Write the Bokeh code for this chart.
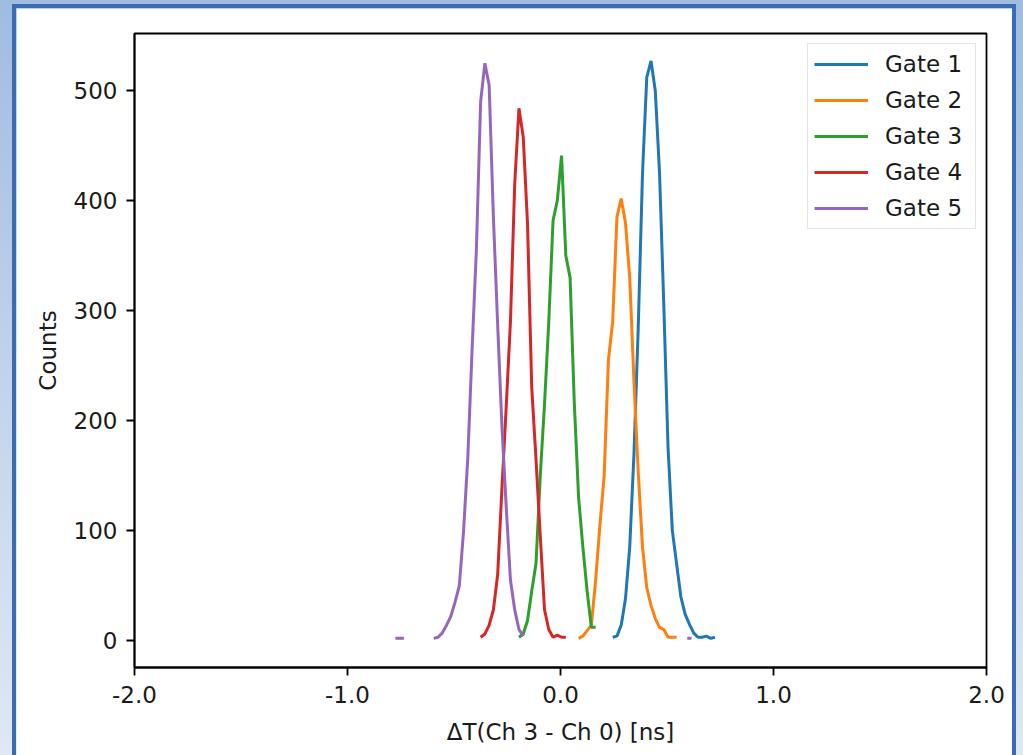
import math
from bokeh.plotting import figure
from bokeh.models import FixedTicker, Range1d
from bokeh.layouts import column
from bokeh.embed import file_html
from bokeh.resources import INLINE

nan = float("nan")

# ---------------- data ----------------
gate_names = ["Gate 1", "Gate 2", "Gate 3", "Gate 4", "Gate 5"]
gate_colors = ["#1f77b4", "#ff7f0e", "#2ca02c", "#d62728", "#9467bd"]

gate1_x = [0.245, 0.265, 0.285, 0.305, 0.325, 0.345, 0.365, 0.385, 0.405, 0.425,
           0.445, 0.465, 0.485, 0.505, 0.525, 0.545, 0.565, 0.585, 0.605, 0.625,
           0.645, 0.665, 0.685, 0.705, 0.725]
gate1_y = [3, 4, 14, 38, 85, 170, 285, 425, 512, 527,
           500, 425, 305, 175, 100, 70, 40, 24, 15, 7,
           3, 3, 4, 2, 3]

gate2_x = [0.085, 0.105, 0.125, 0.145, 0.165, 0.185, 0.205, 0.225, 0.245, 0.265,
           0.285, 0.305, 0.325, 0.345, 0.365, 0.385, 0.405, 0.425, 0.445, 0.465,
           0.485, 0.505, 0.525, 0.545]
gate2_y = [2, 4, 9, 14, 55, 105, 150, 255, 290, 385,
           402, 380, 330, 235, 153, 85, 48, 32, 20, 12,
           10, 3, 3, 3]

gate3_x = [-0.195, -0.175, -0.155, -0.135, -0.115, -0.095, -0.075, -0.055, -0.035, -0.015,
           0.005, 0.025, 0.045, 0.065, 0.085, 0.105, 0.125, 0.145, 0.165]
gate3_y = [3, 6, 18, 45, 70, 150, 215, 290, 382, 400,
           441, 350, 330, 215, 130, 85, 45, 12, 12]

gate4_x = [-0.375, -0.355, -0.335, -0.315, -0.295, -0.275, -0.255, -0.235, -0.215, -0.195,
           -0.175, -0.155, -0.135, -0.115, -0.095, -0.075, -0.055, -0.035, -0.015, 0.005,
           0.025]
gate4_y = [3, 6, 14, 28, 60, 138, 212, 290, 415, 484,
           458, 380, 230, 165, 95, 28, 10, 3, 5, 3,
           3]

gate5_x = [-0.775, -0.755, -0.735, -0.715,
           -0.595, -0.575, -0.555, -0.535, -0.515, -0.495, -0.475, -0.455, -0.435, -0.415,
           -0.395, -0.375, -0.355, -0.335, -0.315, -0.295, -0.275, -0.255, -0.235, -0.215,
           -0.195, -0.175, -0.155,
           0.595, 0.615]
gate5_y = [2, 2, 2, nan,
           2, 3, 7, 14, 22, 35, 50, 100, 167, 265,
           355, 490, 525, 505, 385, 287, 195, 122, 55, 28,
           10, 4, nan,
           2, 2]

x_ticks = [-2, -1, 0, 1, 2]
x_tick_labels = ["-2.0", "-1.0", "0.0", "1.0", "2.0"]
y_ticks = [0, 100, 200, 300, 400, 500]
x_label = "\u0394T(Ch 3 - Ch 0) [ns]"
y_label = "Counts"

series_x = [gate1_x, gate2_x, gate3_x, gate4_x, gate5_x]
series_y = [gate1_y, gate2_y, gate3_y, gate4_y, gate5_y]

# ---------------- figure ----------------
FONT = "DejaVu Sans"
FS = "23px"

p = figure(width=996, height=747,
           x_range=Range1d(-2, 2), y_range=Range1d(-24.5, 552),
           output_backend="svg", toolbar_location=None,
           min_border_left=118, min_border_right=26,
           min_border_top=25, min_border_bottom=88,
           background_fill_color="white", border_fill_color="white")

for xs, ys, name, col in zip(series_x, series_y, gate_names, gate_colors):
    p.line(xs, ys, line_color=col, line_width=3, legend_label=name)

p.xgrid.visible = False
p.ygrid.visible = False
p.outline_line_color = "black"
p.outline_line_width = 1.8

p.xaxis.ticker = FixedTicker(ticks=x_ticks)
p.xaxis.major_label_overrides = dict(zip(x_ticks, x_tick_labels))
p.yaxis.ticker = FixedTicker(ticks=y_ticks)
p.xaxis.axis_label = x_label
p.yaxis.axis_label = y_label

for ax in (p.xaxis, p.yaxis):
    ax.axis_line_color = "black"
    ax.axis_line_width = 1.8
    ax.major_tick_line_color = "black"
    ax.major_tick_line_width = 1.8
    ax.major_tick_out = 8
    ax.major_tick_in = 0
    ax.minor_tick_line_color = None
    ax.major_label_text_font = FONT
    ax.major_label_text_font_size = FS
    ax.major_label_text_color = "#1a1a1a"
    ax.axis_label_text_font = FONT
    ax.axis_label_text_font_size = FS
    ax.axis_label_text_font_style = "normal"
    ax.axis_label_text_color = "#1a1a1a"

p.xaxis.major_label_standoff = 10
p.xaxis.axis_label_standoff = 13
p.yaxis.major_label_standoff = 9
p.yaxis.axis_label_standoff = 10

lg = p.legend[0]
lg.location = "top_right"
lg.margin = 10
lg.padding = 6
lg.spacing = 8
lg.label_height = 28
lg.glyph_height = 28
lg.glyph_width = 54
lg.label_width = 84
lg.label_standoff = 17
lg.label_text_font = FONT
lg.label_text_font_size = FS
lg.label_text_color = "#1a1a1a"
lg.border_line_color = "#cccccc"
lg.border_line_width = 1.5
lg.background_fill_alpha = 0.8

root = column(p, styles={
    "background": "linear-gradient(180deg, #9fbce1 0%, #c4d6ec 55%, #dfe8f4 100%)",
    "padding": "8px 11px 0px 16px",
})
p.styles = {"box-shadow": "0 0 0 4px #3b6cb3"}

open("out.html", "w").write(file_html(root, INLINE))
